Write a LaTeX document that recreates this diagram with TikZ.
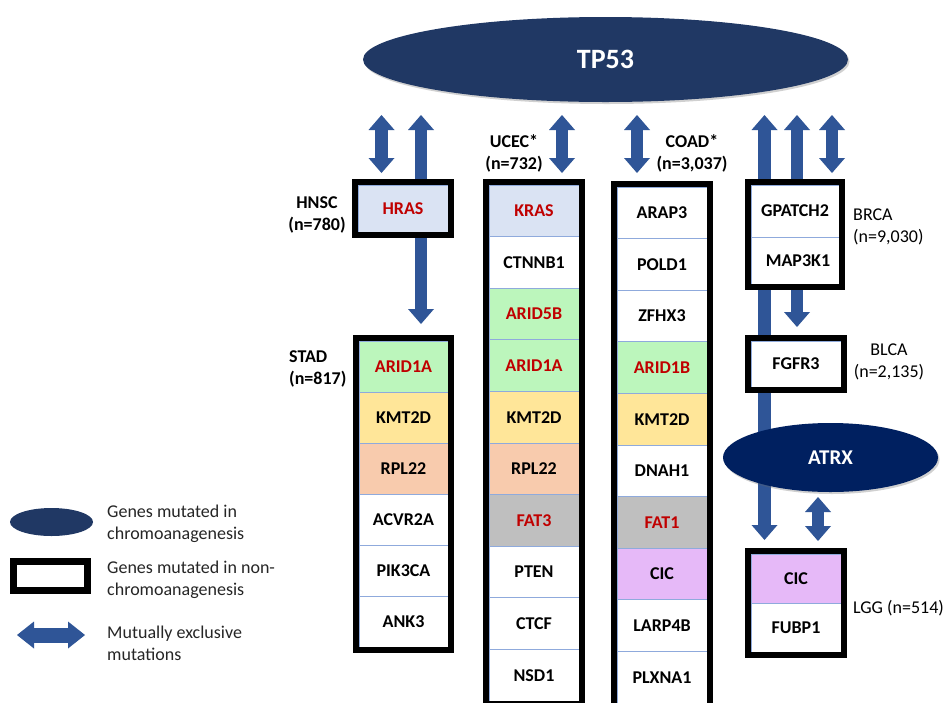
\documentclass[tikz,border=0pt]{standalone}
\usepackage{fontspec}
\setmainfont{Carlito}
\usetikzlibrary{shapes.geometric,arrows.meta,fit,shadows}
\definecolor{ablue}{HTML}{2F5597}
\definecolor{navyone}{HTML}{203864}
\definecolor{navytwo}{HTML}{002060}
\definecolor{gred}{HTML}{C00000}
\definecolor{clb}{HTML}{DAE3F3}
\definecolor{cgr}{RGB}{188,246,188}
\definecolor{cye}{HTML}{FFE699}
\definecolor{cor}{HTML}{F8CBAD}
\definecolor{cgy}{HTML}{BFBFBF}
\definecolor{cpu}{RGB}{230,185,248}
\definecolor{csep}{HTML}{8FAADC}
\tikzset{
 mx/.style={draw=ablue, line width=12.5pt, line cap=butt,
   {Triangle[width=26pt,length=15pt,line width=0pt]}-{Triangle[width=26pt,length=15pt,line width=0pt]}},
 mxl/.style={draw=ablue, line width=15pt, line cap=butt,
   {Triangle[width=27pt,length=17pt,line width=0pt]}-{Triangle[width=27pt,length=17pt,line width=0pt]}},
 generow/.style={draw=csep, line width=0.8pt, minimum width=90pt, inner sep=0pt,
   font=\fontsize{18}{22}\selectfont\bfseries},
 frame/.style={draw=black, line width=6pt, inner sep=3pt},
 lbl/.style={font=\fontsize{18}{22}\selectfont\bfseries, inner sep=0pt},
 lblr/.style={font=\fontsize{18}{22}\selectfont, inner sep=0pt},
 legtxt/.style={font=\fontsize{18}{22}\selectfont, inner sep=0pt, align=left, anchor=west, text=black!85},
 ell/.style={ellipse, inner sep=0pt, text=white,
   drop shadow={shadow xshift=1.5pt, shadow yshift=-2pt, opacity=0.3, fill=black!60}}
}
\begin{document}
\begin{tikzpicture}[x=1pt,y=-1pt]
\fill[white] (0,0) rectangle (947,702);
\useasboundingbox (0,0) rectangle (947,702);

% ---- mutual-exclusivity arrows (behind boxes) ----
\coordinate (a1t) at (381.5,115); \coordinate (a1b) at (381.5,173);
\coordinate (a2t) at (421,115);   \coordinate (a2b) at (421,324);
\coordinate (a3t) at (562,115);   \coordinate (a3b) at (562,173);
\coordinate (a4t) at (637,115);   \coordinate (a4b) at (637,173);
\coordinate (a5t) at (764.5,115); \coordinate (a5b) at (764.5,540);
\coordinate (a6t) at (797,115);   \coordinate (a6b) at (797,327);
\coordinate (a7t) at (832,115);   \coordinate (a7b) at (832,173);
\coordinate (a8t) at (818,497);   \coordinate (a8b) at (818,541);
\foreach \k in {1,...,8} \draw[mx] (a\k t) -- (a\k b);

% ---- HNSC ----
\node[generow, fill=clb, text=gred, minimum height=47pt] (hras) at (403,208.5) {HRAS};
\node[frame, fit=(hras)] (hnsc) {};

% ---- STAD ----
\foreach \g/\c/\tc [count=\i from 0] in {ARID1A/cgr/gred, KMT2D/cye/black, RPL22/cor/black, ACVR2A/white/black, PIK3CA/white/black, ANK3/white/black}
  \node[generow, fill=\c, text=\tc, minimum width=89pt, minimum height=51pt] (s\i) at (403.5,{366.5+51*\i}) {\g};
\node[frame, fit=(s0)(s5)] (stad) {};

% ---- UCEC ----
\foreach \g/\c/\tc [count=\i from 0] in {KRAS/clb/gred, CTNNB1/white/black, ARID5B/cgr/gred, ARID1A/cgr/gred, KMT2D/cye/black, RPL22/cor/black, FAT3/cgy/gred, PTEN/white/black, CTCF/white/black, NSD1/white/black}
  \node[generow, fill=\c, text=\tc, minimum height=51.6pt] (u\i) at (534,{210.8+51.6*\i}) {\g};
\node[frame, fit=(u0)(u9)] (ucec) {};

% ---- COAD ----
\foreach \g/\c/\tc [count=\i from 0] in {ARAP3/white/black, POLD1/white/black, ZFHX3/white/black, ARID1B/cgr/gred, KMT2D/cye/black, DNAH1/white/black, FAT1/cgy/gred, CIC/cpu/black, LARP4B/white/black, PLXNA1/white/black}
  \node[generow, fill=\c, text=\tc, minimum height=51.6pt] (c\i) at (662,{212.8+51.6*\i}) {\g};
\node[frame, fit=(c0)(c9)] (coad) {};

% ---- BRCA ----
\node[generow, fill=white, minimum width=88pt, minimum height=52pt] (b0) at (795,211) {GPATCH2};
\node[generow, fill=white, minimum width=88pt, minimum height=47pt] (b1) at (795,260.5) {\hspace{6pt}MAP3K1};
\node[frame, fit=(b0)(b1)] (brca) {};

% ---- BLCA ----
\node[generow, fill=white, minimum height=46pt] (fgfr) at (796,364) {FGFR3};
\node[frame, fit=(fgfr)] (blca) {};

% ---- LGG ----
\node[generow, fill=cpu, minimum height=49pt] (g0) at (796,578.5) {CIC};
\node[generow, fill=white, minimum height=49pt] (g1) at (796,627.5) {FUBP1};
\node[frame, fit=(g0)(g1)] (lgg) {};

% ---- chromoanagenesis genes ----
\node[ell, fill=navyone, minimum width=485pt, minimum height=85pt, font=\fontsize{28}{30}\selectfont\bfseries] (tp53) at (605.5,59.5) {TP53};
\node[ell, fill=navytwo, minimum width=215pt, minimum height=69pt, font=\fontsize{21}{24}\selectfont\bfseries] (atrx) at (830.5,457.5) {ATRX};

% ---- cancer labels ----
\node[lbl, align=center] (lhnsc) at (317,215) {HNSC\\(n=780)};
\node[lbl, align=left, anchor=west] (lstad) at (289,369) {STAD\\(n=817)};
\node[lbl, align=center] (lucec) at (514,153.5) {UCEC*\\(n=732)};
\node[lbl, align=center] (lcoad) at (692,153.5) {COAD*\\(n=3,037)};
\node[lblr, align=left, anchor=west] (lbrca) at (853,227) {BRCA\\(n=9,030)};
\node[lblr, align=center] (lblca) at (889,362) {BLCA\\(n=2,135)};
\node[lblr, anchor=west] (llgg) at (853,608) {LGG (n=514)};

% ---- legend ----
\node[ellipse, fill=navyone, minimum width=83pt, minimum height=28pt, inner sep=0pt] (legell) at (51.5,522) {};
\node[draw=black, line width=7pt, minimum width=74pt, minimum height=29pt, inner sep=0pt] (legbox) at (50.5,576) {};
\coordinate (legl) at (17,635); \coordinate (legr) at (85,635);
\draw[mxl] (legl) -- (legr);
\node[legtxt] (lt1) at (107,524) {Genes mutated in\\chromoanagenesis};
\node[legtxt] (lt2) at (107,580) {Genes mutated in non-\\chromoanagenesis};
\node[legtxt] (lt3) at (107,643) {Mutually exclusive\\mutations};
\end{tikzpicture}
\end{document}
